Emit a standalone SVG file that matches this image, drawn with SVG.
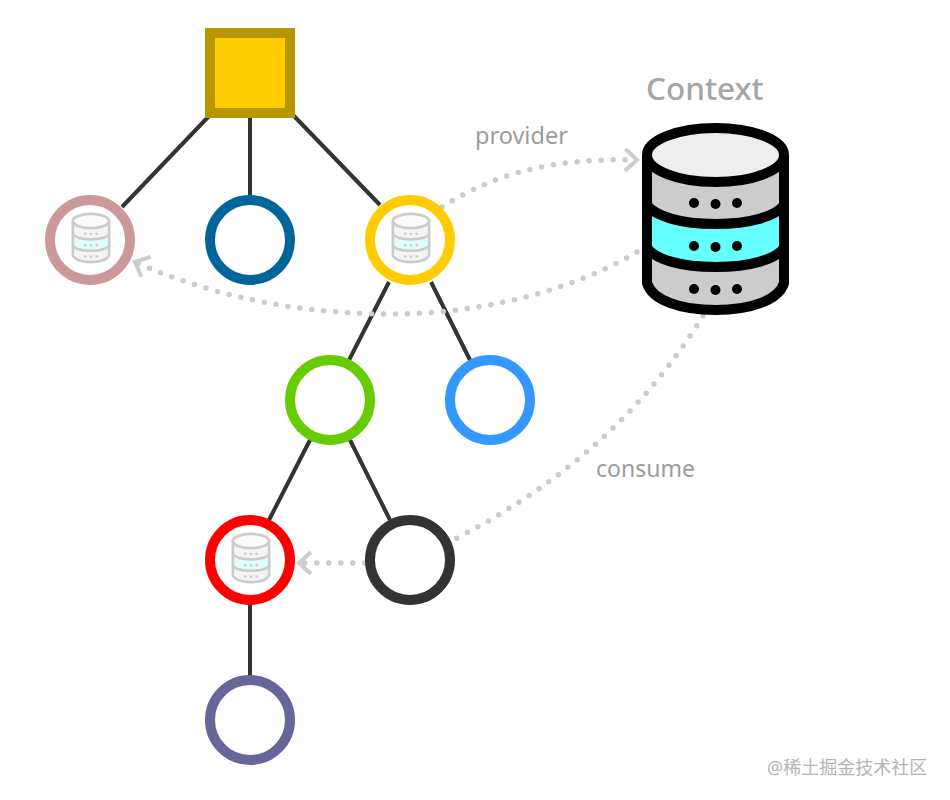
<svg xmlns="http://www.w3.org/2000/svg" width="950" height="800" viewBox="0 0 950 800">
<style>
.e{fill:none;stroke:#333;stroke-width:4}
.n{fill:#fff;stroke-width:10}
.d{fill:none;stroke:#ccc;stroke-width:5.5;stroke-linecap:round;stroke-dasharray:0 12}
.t{font-family:"Noto Sans","Open Sans","Liberation Sans",sans-serif;fill:#9c9c9c;font-size:23.5px}
.db{fill:none;stroke:#000;stroke-width:10;stroke-linejoin:round}
</style>
<defs>
<marker id="a" markerUnits="userSpaceOnUse" markerWidth="22" markerHeight="30" refX="15" refY="12" orient="auto"><path d="M3 1L15 12L3 23" fill="none" stroke="#ccc" stroke-width="4"/></marker>
<g id="dbicon">
<path d="M647 155V283C647 298 678 310 715.5 310C753 310 784 298 784 283V155Z" fill="#ccc"/>
<path d="M647 205C655 216 680 224 715.5 224C751 224 776 216 784 205V248C776 259 751 267 715.5 267C680 267 655 259 647 248Z" fill="#66ffff"/>
<ellipse cx="715.5" cy="155" rx="68.5" ry="27" fill="#eee" stroke="#000" stroke-width="10"/>
<path class="db" d="M647 155V283C652 300 680 310 715.5 310C751 310 779 300 784 283V155"/>
<path class="db" d="M647 205C655 216 680 224 715.5 224C751 224 776 216 784 205M647 248C655 259 680 267 715.5 267C751 267 776 259 784 248"/>
<g fill="#000"><circle cx="694" cy="203" r="5"/><circle cx="715.5" cy="204" r="5"/><circle cx="737" cy="203" r="5"/><circle cx="694" cy="246" r="5"/><circle cx="715.5" cy="247" r="5"/><circle cx="737" cy="246" r="5"/><circle cx="694" cy="289" r="5"/><circle cx="715.5" cy="290" r="5"/><circle cx="737" cy="289" r="5"/></g>
</g>
</defs>
<g id="connectors">
<path class="e" d="M210 115L122 207M250 118V195M293 115L380 205M389 282L348 362M431 282L470 360M310 440L269 520M350 440L390 520M250 600V680"/>
<path class="d" d="M442 207C500 170 560 158 637 160" marker-end="url(#a)"/>
<path class="d" d="M637 252C565 295 470 314 393 314C310 314 220 300 135 262" marker-end="url(#a)"/>
<path class="d" d="M703 316C660 385 590 470 455 539C430 552 400 563 360 563L299 563" marker-end="url(#a)"/>
</g>
<g id="root"><rect x="210" y="33" width="80" height="80" fill="#fc0" stroke="#b89600" stroke-width="10"/></g>
<g id="n1"><circle class="n" cx="90" cy="240" r="40" stroke="#c99"/><use href="#dbicon" transform="translate(91 238) scale(.265) translate(-715.5 -219)" opacity=".2"/></g>
<g id="n2"><circle class="n" cx="250" cy="240" r="40" stroke="#069"/></g>
<g id="n3"><circle class="n" cx="410" cy="240" r="40" stroke="#fc0"/><use href="#dbicon" transform="translate(411 238) scale(.265) translate(-715.5 -219)" opacity=".2"/></g>
<g id="n4"><circle class="n" cx="330" cy="400" r="40" stroke="#6c0"/></g>
<g id="n5"><circle class="n" cx="490" cy="400" r="40" stroke="#39f"/></g>
<g id="n6"><circle class="n" cx="250" cy="560" r="40" stroke="#f00"/><use href="#dbicon" transform="translate(251 558) scale(.265) translate(-715.5 -219)" opacity=".2"/></g>
<g id="n7"><circle class="n" cx="410" cy="560" r="40" stroke="#333"/></g>
<g id="n8"><circle class="n" cx="250" cy="720" r="40" stroke="#669"/></g>
<g id="context"><use href="#dbicon"/><text class="t" x="646" y="100" style="font-size:31.5px;font-weight:500;fill:#a6a6a6">Context</text></g>
<text class="t" x="475" y="144">provider</text>
<text class="t" x="596" y="477" style="font-size:23px">consume</text>
<text x="767" y="774" style="font-family:'Noto Sans','Noto Sans CJK SC',sans-serif;font-size:18px;fill:#b4b4b4">@稀土掘金技术社区</text>
</svg>
